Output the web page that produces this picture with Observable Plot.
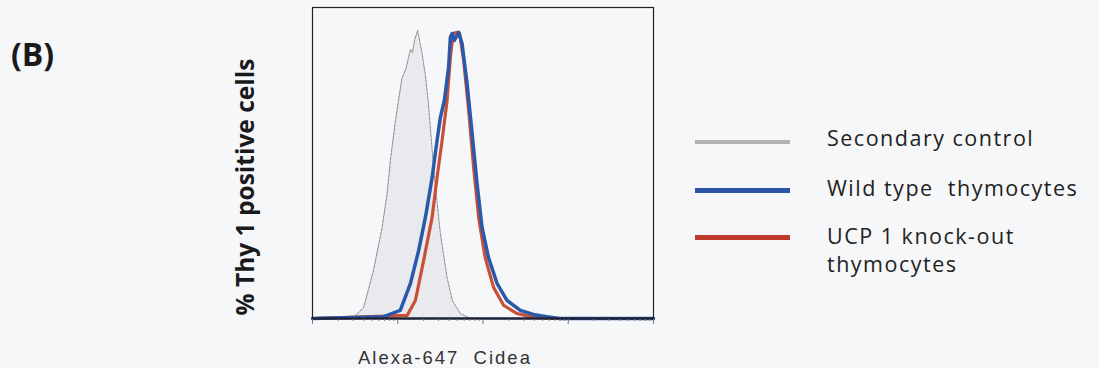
<!DOCTYPE html>
<html>
<head>
<meta charset="utf-8">
<script src="https://cdn.jsdelivr.net/npm/d3@7"></script>
<script src="https://cdn.jsdelivr.net/npm/@observablehq/plot@0.6"></script>
<style>
  html, body { margin: 0; padding: 0; background: #f6f7f9; }
  #wrap { position: relative; width: 1099px; height: 368px; overflow: hidden; background: #f6f7f9; }
  #chart { position: absolute; left: 0; top: 0; }
  .lbl { position: absolute; white-space: nowrap; color: #1a1a1a; line-height: 1; }
  #panel { left: 11px; top: 32px; font: bold 32px "Open Sans", sans-serif; }
  #ylab { left: 244px; top: 187px; font: bold 24.5px "Open Sans", sans-serif; transform: translate(-50%, -50%) rotate(-90deg); }
  #xlab { left: 358px; top: 347px; font: 18.5px "Liberation Sans", Arial, sans-serif; letter-spacing: 2px; color: #333; }
  .leg { position: absolute; left: 827px; font: 21.5px "Open Sans", sans-serif; letter-spacing: 1.5px; color: #222; line-height: 28px; white-space: nowrap; }
  .sw { position: absolute; left: 695px; width: 95px; }
</style>
</head>
<body>
<div id="wrap">
  <div id="chart"></div>
  <div class="lbl" id="panel">(B)</div>
  <div class="lbl" id="ylab">% Thy 1 positive cells</div>
  <div class="lbl" id="xlab">Alexa-647&nbsp; Cidea</div>
  <div class="sw" style="top:140px;height:4px;background:#b3b3b3"></div>
  <div class="sw" style="top:188px;height:5px;background:#2d55a6"></div>
  <div class="sw" style="top:235px;height:5px;background:#c0392e"></div>
  <div class="leg" style="top:124px">Secondary control</div>
  <div class="leg" style="top:174px">Wild type&nbsp; thymocytes</div>
  <div class="leg" style="top:222px">UCP 1 knock-out<br>thymocytes</div>
</div>
<script>
// Fluorescence intensity (Alexa-647 Cidea, log scale) and % of max cell count
const controlX = [2.45, 3.02, 3.98, 5.19, 6.56, 7.5, 8.2, 9.4, 11.2, 12.5, 14.1, 14.9, 15.7, 17.1, 19.3, 21.1, 22.9, 25.9, 28.8, 31.6, 37.9, 43.7, 54.2, 67.6, 81.3];
const controlY = [0, 0.3, 3.5, 15.4, 29.3, 40.2, 50.8, 63.7, 77.2, 80.4, 86.5, 85.5, 89.4, 92.6, 85.2, 78.1, 69.1, 50.8, 37.9, 27.3, 13.2, 5.8, 1.6, 0.3, 0];

const wildTypeX = [1, 6.86, 10.7, 14.1, 17.6, 21.1, 25.3, 28.9, 31.6, 35.2, 39.5, 41.4, 43.4, 46.1, 51.9, 56.8, 65.0, 74.5, 85.1, 97.5, 116, 146, 191, 274, 389, 562, 794, 10000];
const wildTypeY = [0, 0.6, 2.6, 11.3, 21.9, 32.5, 45.3, 57.2, 64.6, 70.1, 80.7, 90.4, 91.6, 89.4, 92.0, 88.4, 75.6, 59.5, 43.4, 29.3, 19.6, 11.3, 5.8, 2.6, 1.3, 0.6, 0, 0];

const knockoutX = [1, 12.9, 16.1, 20.1, 25.3, 28.9, 33.1, 37.9, 41.4, 44.6, 49.7, 53.2, 59.3, 67.9, 77.6, 88.9, 106, 133, 175, 251, 359, 470, 617, 10000];
const knockoutY = [0, 1.0, 5.8, 18.6, 32.5, 45.3, 57.2, 70.1, 83.9, 91.6, 92.0, 91.6, 83.0, 66.9, 48.6, 32.5, 19.6, 10.0, 4.2, 1.6, 0.6, 0.3, 0, 0];

const majorTicks = [1, 10, 100, 1000, 10000];
const minorTicks = [2,3,4,5,6,7,8,9].flatMap(m => [1, 10, 100, 1000].map(d => m * d));

const toRows = (xs, ys) => xs.map((x, i) => ({x, y: ys[i]}));
const control = toRows(controlX, controlY);
const wildType = toRows(wildTypeX, wildTypeY);
const knockout = toRows(knockoutX, knockoutY);

const chart = Plot.plot({
  width: 1099,
  height: 368,
  marginLeft: 312,
  marginRight: 446,
  marginTop: 7,
  marginBottom: 50,
  style: {background: "transparent"},
  x: {type: "log", domain: [1, 10000]},
  y: {domain: [0, 100], axis: null},
  marks: [
    Plot.areaY(control, {x: "x", y: "y", fill: "#e8eaed"}),
    Plot.line(control, {x: "x", y: "y", stroke: "#808080", strokeWidth: 0.9, strokeDasharray: "3,1.2"}),
    Plot.line(knockout, {x: "x", y: "y", stroke: "#c94f36", strokeWidth: 3.2}),
    Plot.line(wildType, {x: "x", y: "y", stroke: "#2c58aa", strokeWidth: 3.5}),
    Plot.ruleY([0], {stroke: "#1c2a55", strokeWidth: 2.5}),
    Plot.axisX({ticks: majorTicks, tickFormat: () => "", tickSize: 6, stroke: "#777", label: null}),
    Plot.axisX({ticks: minorTicks, tickFormat: () => "", tickSize: 3, stroke: "#888", label: null}),
    Plot.frame({stroke: "#222", strokeWidth: 1.2})
  ]
});
document.getElementById("chart").appendChild(chart);
</script>
</body>
</html>
